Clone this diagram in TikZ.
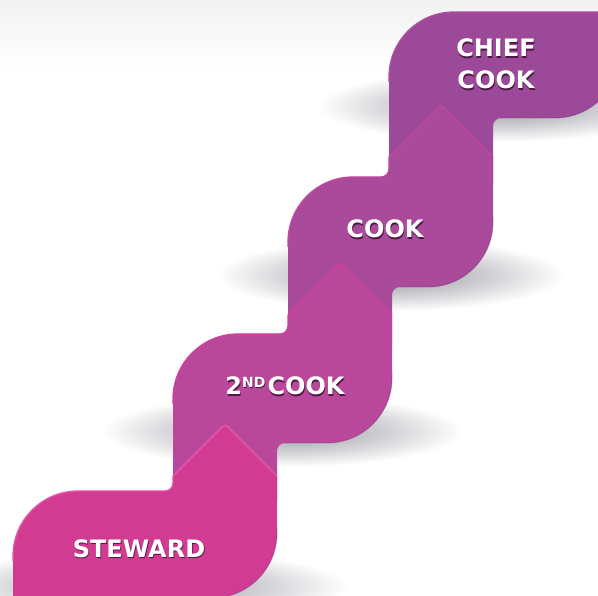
\documentclass[tikz,border=0pt]{standalone}
\usepackage{fontspec}
\newfontfamily\lblfont{DejaVu Sans}
\definecolor{bgtop}{RGB}{242,242,243}
\definecolor{shd}{RGB}{120,120,132}
\definecolor{cSte}{RGB}{209,59,145}
\definecolor{cSteHi}{RGB}{230,88,172}
\definecolor{cSec}{RGB}{185,71,154}
\definecolor{cSecHi}{RGB}{214,62,156}
\definecolor{cCook}{RGB}{170,74,154}
\definecolor{cCookHi}{RGB}{194,72,160}
\definecolor{cChief}{RGB}{155,73,152}
\definecolor{cChiefHi}{RGB}{172,82,162}
\definecolor{cDark}{RGB}{120,50,130}
\definecolor{txtshadow}{RGB}{78,24,68}
\pgfdeclareradialshading{blockshadow}{\pgfpoint{0bp}{0bp}}{color(0bp)=(shd!72);color(11bp)=(shd!45);color(25bp)=(white);color(50bp)=(white)}
% L R T B h Bext fill highlight
\newcommand\stairblock[8]{%
 \fill[#7] (#1,#6) -- (#1,{#3+65}) .. controls (#1,{#3+29.1}) and ({#1+29.1},#3) .. ({#1+65},#3)
 -- ({#2-112},#3) .. controls ({#2-107.6},#3) and ({#2-104},{#3-3.6}) .. ({#2-104},{#3-8})
 -- ({#2-104},{#3-#5}) -- ({#2-57.66},{#3-#5-46.34}) .. controls ({#2-52},{#3-#5-52}) .. ({#2-46.34},{#3-#5-46.34})
 -- (#2,{#3-#5}) -- (#2,{#4-65}) .. controls (#2,{#4-29.1}) and ({#2-29.1},#4) .. ({#2-65},#4)
 -- ({#1+112},#4) .. controls ({#1+107.6},#4) and ({#1+104},{#4+3.6}) .. ({#1+104},{#4+8})
 -- ({#1+104},#6) -- cycle;
 \draw[#8, line width=1.3pt, line join=round] (#1,{#3+70}) -- (#1,{#3+65}) .. controls (#1,{#3+29.1}) and ({#1+29.1},#3) .. ({#1+65},#3)
 -- ({#2-112},#3) .. controls ({#2-107.6},#3) and ({#2-104},{#3-3.6}) .. ({#2-104},{#3-8})
 -- ({#2-104},{#3-#5}) -- ({#2-57.66},{#3-#5-46.34}) .. controls ({#2-52},{#3-#5-52}) .. ({#2-46.34},{#3-#5-46.34})
 -- (#2,{#3-#5});
 \draw[cDark, opacity=0.45, line width=0.9pt] (#2,{#4-70}) -- (#2,{#4-65}) .. controls (#2,{#4-29.1}) and ({#2-29.1},#4) .. ({#2-65},#4) -- ({#1+112},#4);
}
\newcommand\blockshadow[4]{%
 \shade[shading=blockshadow] ({(#1+#2)/2},{#4-12}) ellipse [x radius={(#2-#1)/2+72}, y radius=36];
}
\newcommand\shtext[1]{\rlap{\hspace{0.7pt}\raisebox{-1.6pt}{\color{txtshadow}#1}}#1}
\tikzset{
 lbl/.style={font=\lblfont\bfseries\fontsize{24}{28}\selectfont, text=white, anchor=base, inner sep=0pt},
}
\begin{document}
\begin{tikzpicture}[x=1pt, y=-1pt]
\useasboundingbox (0,0) rectangle (598,596);
\fill[white] (0,0) rectangle (598,596);
\shade[top color=bgtop, bottom color=white] (0,0) rectangle (598,70);
% shadows
\blockshadow{389}{610}{12}{118}
\blockshadow{288}{493}{177}{287}
\blockshadow{173}{392}{334}{443}
\blockshadow{13}{277}{491}{598}
% chief cook block (top, no arrow)
\fill[cChief] (389,185) -- (389,77) .. controls (389,41.1) and (418.1,12) .. (454,12)
 -- (620,12) -- (620,53) .. controls (620,88.9) and (590.9,118) .. (555,118)
 -- (501,118) .. controls (496.6,118) and (493,121.6) .. (493,126) -- (493,185) -- cycle;
\draw[cChiefHi, line width=1.3pt] (389,82) -- (389,77) .. controls (389,41.1) and (418.1,12) .. (454,12) -- (620,12);
\draw[cDark, opacity=0.45, line width=0.9pt] (620,53) .. controls (620,88.9) and (590.9,118) .. (555,118) -- (501,118);
% cook
\stairblock{288}{493}{177}{287}{20}{345}{cCook}{cCookHi}
% 2nd cook
\stairblock{173}{392}{334}{443}{19}{500}{cSec}{cSecHi}
% steward
\stairblock{13}{277}{491}{598}{15}{640}{cSte}{cSteHi}
% labels
\node[lbl] (chiefa) at (496,57) {\shtext{CHIEF}};
\node[lbl] (chiefb) at (496,89) {\shtext{COOK}};
\node[lbl] (cook) at (385,238) {\shtext{COOK}};
\node[lbl] (sec) at (285,395) {\shtext{2\raisebox{7.6pt}{\fontsize{14}{14}\selectfont ND}\hspace{2pt}COOK}};
\node[lbl] (ste) at (139,557) {\shtext{STEWARD}};
\end{tikzpicture}
\end{document}
